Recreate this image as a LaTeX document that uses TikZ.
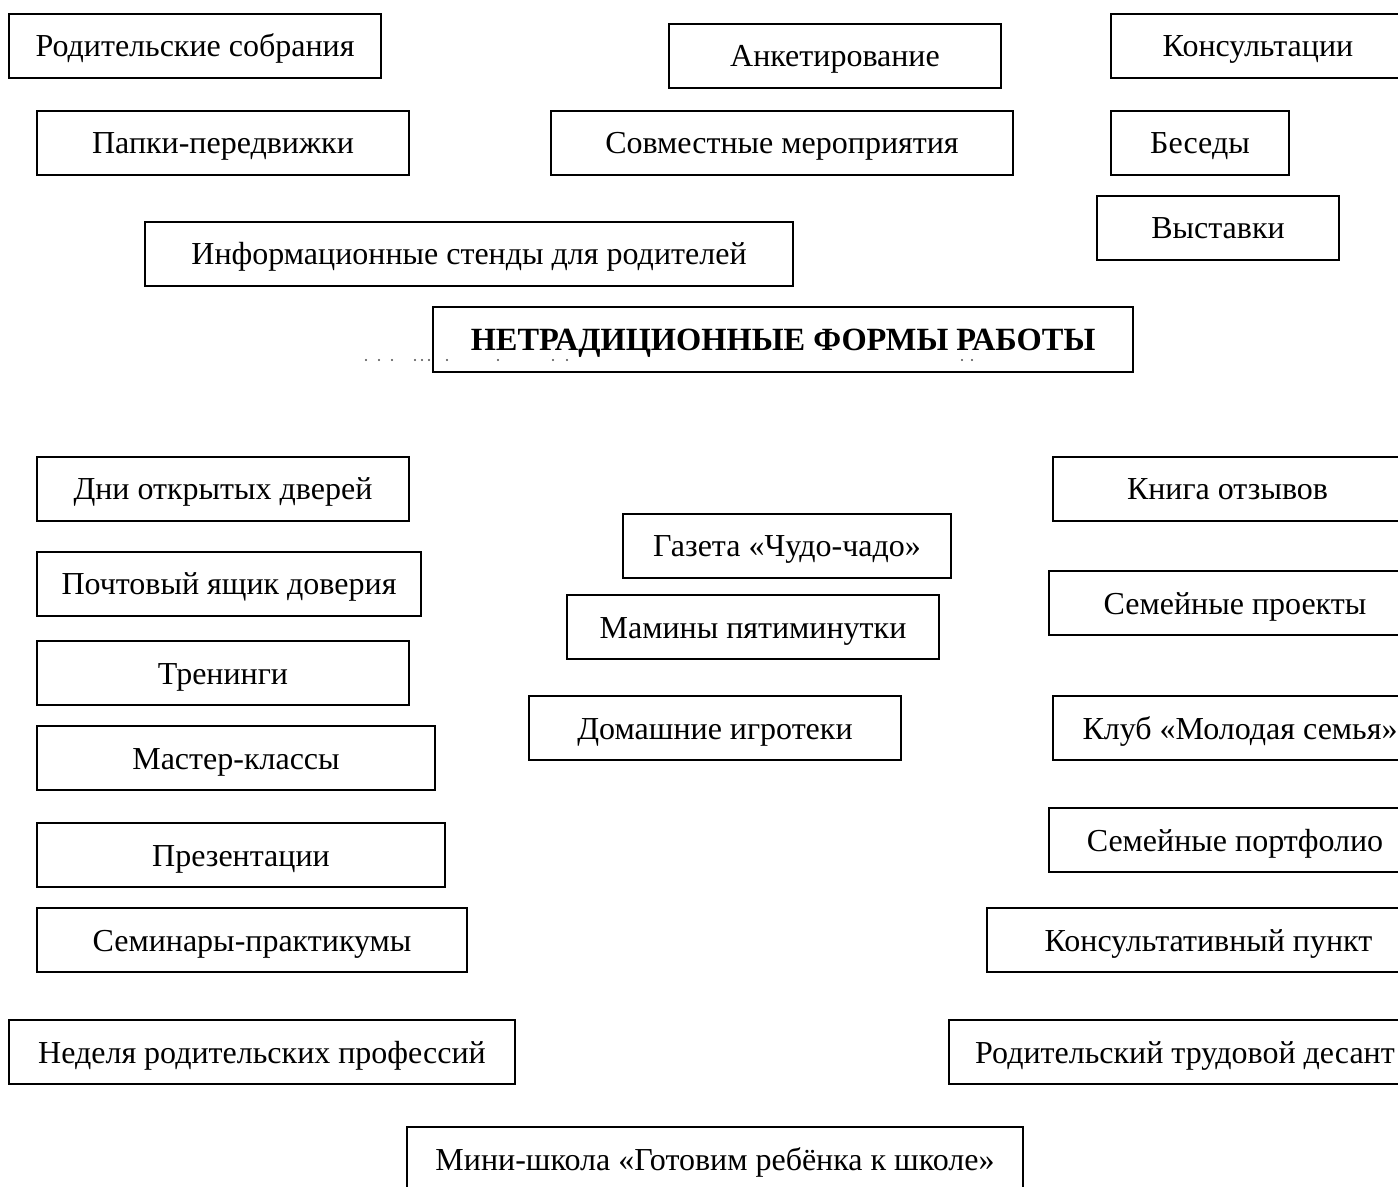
\documentclass[tikz,border=0pt]{standalone}
\usepackage{fontspec}
\setmainfont{Liberation Serif}
\usepackage{tikz}
\usetikzlibrary{positioning}

\tikzset{
  formbox/.style={draw, line width=0.9pt, minimum height=32pt, inner sep=0pt,
    text height=12pt, text depth=1pt, font=\fontsize{16}{19}\selectfont},
  titlebox/.style={formbox, minimum height=32.5pt, font=\fontsize{16.2}{19}\selectfont\bfseries},
  speck/.style={fill=black!70, inner sep=0pt, minimum size=1.2pt, circle}
}

\begin{document}
\begin{tikzpicture}[x=0.5pt,y=-0.5pt]
  \useasboundingbox (0,0) rectangle (1398,1187);
  \clip (0,0) rectangle (1398,1187);

  % upper group
  \node[formbox, minimum width=186pt] (sobr) at (195,46) {Родительские собрания};
  \node[formbox, minimum width=166pt] (anket) at (835,56) {Анкетирование};
  \node[formbox, minimum width=147pt] (konsult) at (1258,46) {Консультации};
  \node[formbox, minimum width=186pt] (papki) at (223,143) {Папки-передвижки};
  \node[formbox, minimum width=231pt] (sovm) at (782,143) {Совместные мероприятия};
  \node[formbox, minimum width=89pt] (besedy) at (1200,143) {Беседы};
  \node[formbox, minimum width=121pt] (vystavki) at (1218,228) {Выставки};
  \node[formbox, minimum width=324pt] (stendy) at (469,254) {Информационные стенды для родителей};

  % title
  \node[titlebox, minimum width=350pt] (title) at (783,339.5) {НЕТРАДИЦИОННЫЕ ФОРМЫ РАБОТЫ};
  \foreach \dx in {366,379,392,415,422,429,447,498,553,567,962,972}
    \node[speck] (dot\dx) at (\dx,360) {};

  % left column
  \node[formbox, minimum width=186pt] (dni) at (223,489) {Дни открытых дверей};
  \node[formbox, minimum width=192pt] (pochta) at (229,584) {Почтовый ящик доверия};
  \node[formbox, minimum width=186pt] (treningi) at (223,673) {Тренинги};
  \node[formbox, minimum width=199pt] (master) at (236,758) {Мастер-классы};
  \node[formbox, minimum width=204pt] (prezent) at (241,855) {Презентации};
  \node[formbox, minimum width=215pt] (seminar) at (252,940) {Семинары-практикумы};
  \node[formbox, minimum width=253pt] (nedelya) at (262,1052) {Неделя родительских профессий};

  % middle column
  \node[formbox, minimum width=164pt] (gazeta) at (787,546) {Газета «Чудо-чадо»};
  \node[formbox, minimum width=186pt] (maminy) at (753,627) {Мамины пятиминутки};
  \node[formbox, minimum width=186pt] (igroteki) at (715,728) {Домашние игротеки};

  % right column
  \node[formbox, minimum width=174.5pt] (kniga) at (1227.5,489) {Книга отзывов};
  \node[formbox, minimum width=186pt] (proekty) at (1235,603) {Семейные проекты};
  \node[formbox, minimum width=187pt] (klub) at (1240,728) {Клуб «Молодая семья»};
  \node[formbox, minimum width=186pt] (portfolio) at (1235,840) {Семейные портфолио};
  \node[formbox, minimum width=221.5pt] (punkt) at (1208.5,940) {Консультативный пункт};
  \node[formbox, minimum width=236pt] (desant) at (1185,1052) {Родительский трудовой десант};

  % bottom
  \node[formbox, minimum width=308pt] (mini) at (715,1159) {Мини-школа «Готовим ребёнка к школе»};
\end{tikzpicture}
\end{document}
